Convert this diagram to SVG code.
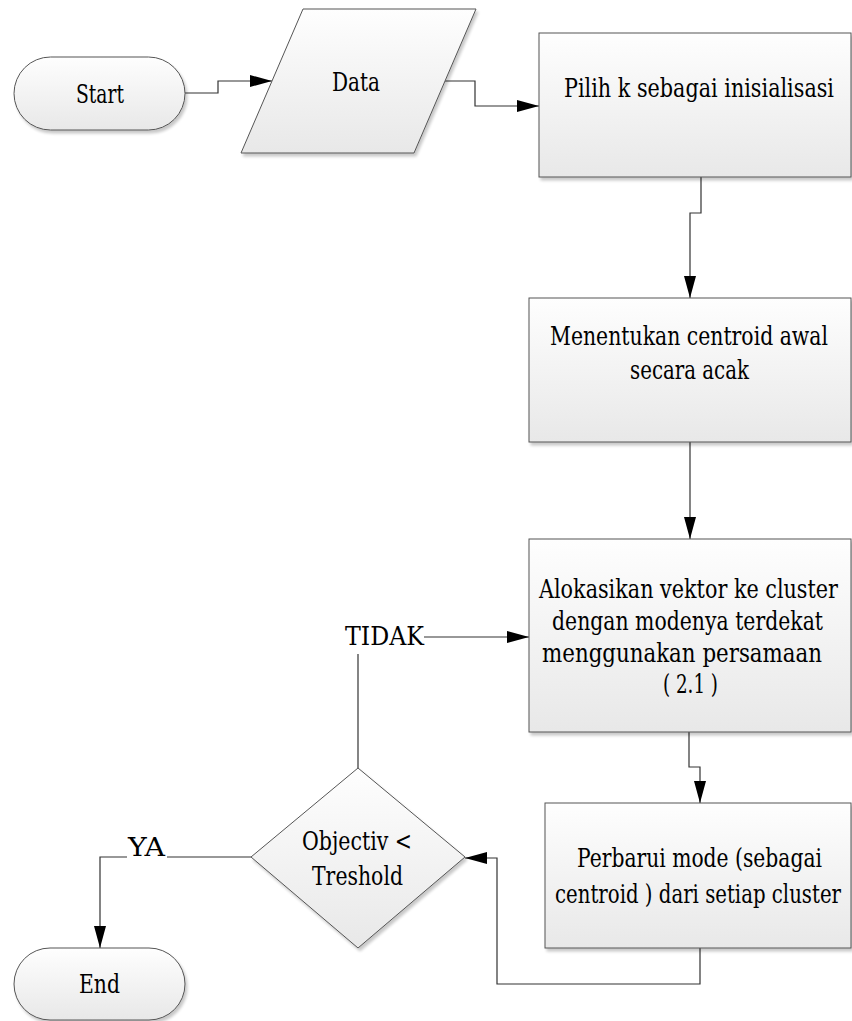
<svg xmlns="http://www.w3.org/2000/svg" width="852" height="1021" viewBox="0 0 852 1021">
<defs>
<linearGradient id="g" x1="0" y1="0" x2="0" y2="1">
<stop offset="0" stop-color="#fefefe"/>
<stop offset="1" stop-color="#e8e8e8"/>
</linearGradient>
<filter id="sh" x="-10%" y="-10%" width="130%" height="130%">
<feGaussianBlur in="SourceAlpha" stdDeviation="1.5"/>
<feOffset dx="2" dy="3" result="b"/>
<feComponentTransfer><feFuncA type="linear" slope="0.22"/></feComponentTransfer>
<feMerge><feMergeNode/><feMergeNode in="SourceGraphic"/></feMerge>
</filter>
<marker id="ar" markerWidth="22" markerHeight="12" refX="22" refY="6" orient="auto" markerUnits="userSpaceOnUse">
<path d="M0,0 L22,6 L0,12 Z" fill="#000"/>
</marker>
</defs>
<style>
.n{fill:url(#g);stroke:#555;stroke-width:1;filter:url(#sh)}
.t{font-family:"DejaVu Serif",serif;font-size:21px;fill:#000;text-anchor:middle}
.c{fill:none;stroke:#333;stroke-width:1.2}
</style>
<rect width="852" height="1021" fill="#fff"/>
<g id="connectors">
<path class="c" d="M185,93 H218 V81 H272" marker-end="url(#ar)"/>
<path class="c" d="M445,81 H475 V106 H539" marker-end="url(#ar)"/>
<path class="c" d="M701,177 V213 H690 V298" marker-end="url(#ar)"/>
<path class="c" d="M690,442 V539" marker-end="url(#ar)"/>
<path class="c" d="M424,637 H529" marker-end="url(#ar)"/>
<path class="c" d="M358,654 V768"/>
<path class="c" d="M689,732 V767 H700 V803" marker-end="url(#ar)"/>
<path class="c" d="M700,948 V984 H497 V858 H465" marker-end="url(#ar)"/>
<path class="c" d="M251,857 H167"/>
<path class="c" d="M127,857 H100 V948" marker-end="url(#ar)"/>
<text class="t" transform="translate(384.5,645) scale(1,1.22)" textLength="79" lengthAdjust="spacingAndGlyphs">TIDAK</text>
<text class="t" transform="translate(146.5,856) scale(1,1.22)" textLength="37" lengthAdjust="spacingAndGlyphs">YA</text>
</g>
<g id="start">
<rect class="n" x="14" y="57" width="171" height="73" rx="36.5" ry="36.5"/>
<text class="t" transform="translate(100,103) scale(1,1.22)" textLength="48" lengthAdjust="spacingAndGlyphs">Start</text>
</g>
<g id="data">
<polygon class="n" points="303,9 476,9 414,153 241,153"/>
<text class="t" transform="translate(356,91) scale(1,1.22)" textLength="48" lengthAdjust="spacingAndGlyphs">Data</text>
</g>
<g id="pilih">
<rect class="n" x="539" y="33" width="312" height="144"/>
<text class="t" transform="translate(699,97) scale(1,1.22)" textLength="270" lengthAdjust="spacingAndGlyphs">Pilih k sebagai inisialisasi</text>
</g>
<g id="menentukan">
<rect class="n" x="529" y="298" width="322" height="144"/>
<text class="t" transform="translate(689,345) scale(1,1.22)" textLength="278" lengthAdjust="spacingAndGlyphs">Menentukan centroid awal</text>
<text class="t" transform="translate(689.5,379) scale(1,1.22)" textLength="119" lengthAdjust="spacingAndGlyphs">secara acak</text>
</g>
<g id="alokasikan">
<rect class="n" x="529" y="539" width="322" height="193"/>
<text class="t" transform="translate(688.5,598) scale(1,1.22)" textLength="299" lengthAdjust="spacingAndGlyphs">Alokasikan vektor ke cluster</text>
<text class="t" transform="translate(687.5,630) scale(1,1.22)" textLength="271" lengthAdjust="spacingAndGlyphs">dengan modenya terdekat</text>
<text class="t" transform="translate(682,662) scale(1,1.22)" textLength="280" lengthAdjust="spacingAndGlyphs">menggunakan persamaan</text>
<text class="t" transform="translate(690.5,693) scale(1,1.22)" textLength="55" lengthAdjust="spacingAndGlyphs">( 2.1 )</text>
</g>
<g id="perbarui">
<rect class="n" x="545" y="803" width="306" height="145"/>
<text class="t" transform="translate(699.5,867) scale(1,1.22)" textLength="245" lengthAdjust="spacingAndGlyphs">Perbarui mode (sebagai</text>
<text class="t" style="font-size:19px" transform="translate(698,903) scale(1,1.35)" textLength="286" lengthAdjust="spacingAndGlyphs">centroid ) dari setiap cluster</text>
</g>
<g id="decision">
<polygon class="n" points="358,768 465,857 358,948 251,857"/>
<text class="t" transform="translate(357,850) scale(1,1.22)" textLength="110" lengthAdjust="spacingAndGlyphs">Objectiv &lt;</text>
<text class="t" transform="translate(357.5,885) scale(1,1.22)" textLength="91" lengthAdjust="spacingAndGlyphs">Treshold</text>
</g>
<g id="end">
<rect class="n" x="14" y="948" width="171" height="72" rx="36" ry="36"/>
<text class="t" transform="translate(99.5,993) scale(1,1.22)" textLength="41" lengthAdjust="spacingAndGlyphs">End</text>
</g>
</svg>
